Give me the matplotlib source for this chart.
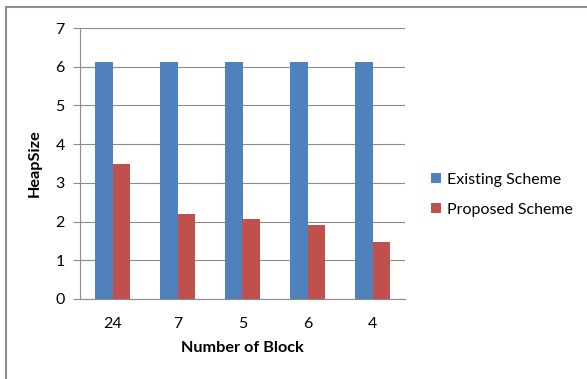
import matplotlib
matplotlib.use("Agg")
import matplotlib.pyplot as plt
import numpy as np
from matplotlib.patches import Rectangle

plt.rcParams['font.family'] = ['Lato', 'DejaVu Sans']

categories = ["24", "7", "5", "6", "4"]
existing = [6.13, 6.13, 6.13, 6.13, 6.13]
proposed = [3.5, 2.19, 2.06, 1.90, 1.47]
series_names = ["Existing Scheme", "Proposed Scheme"]
yticks = [0, 1, 2, 3, 4, 5, 6, 7]

blue = "#4F81BD"
red = "#C0504D"
grid_col = "#8C8C8C"

fig = plt.figure(figsize=(5.87, 3.79), dpi=100)
ax = fig.add_axes([80/587, 1-299/379, 325/587, 271/379])

x = np.arange(len(categories))
w = 0.27
ax.bar(x - w/2, existing, width=w, color=blue, label=series_names[0], zorder=3)
ax.bar(x + w/2, proposed, width=w, color=red, label=series_names[1], zorder=3)

ax.set_xlim(-0.5, len(categories) - 0.5)
ax.set_ylim(0, 7)
ax.set_yticks(yticks)
ax.set_xticks(x)
ax.set_xticklabels(categories)
ax.yaxis.grid(True, color=grid_col, linewidth=0.8, zorder=0)
ax.set_axisbelow(True)

for s in ["top", "right"]:
    ax.spines[s].set_visible(False)
ax.spines["left"].set_color(grid_col)
ax.spines["bottom"].set_color(grid_col)
ax.spines["left"].set_linewidth(0.8)
ax.spines["bottom"].set_linewidth(0.8)

ax.tick_params(axis="y", direction="out", length=5, color=grid_col, width=0.8,
               labelsize=11.5, pad=6)
ax.tick_params(axis="x", length=0, labelsize=11.5, pad=13)

ax.set_xlabel("Number of Block", fontsize=11.7, fontweight="bold", labelpad=7)
ax.set_ylabel("HeapSize", fontsize=11.7, fontweight="bold", labelpad=10)

ax.legend(loc="center left", bbox_to_anchor=(1.08, 0.385), frameon=False,
          fontsize=11.5, handlelength=0.6, handleheight=0.6, handletextpad=0.4,
          labelspacing=1.0, borderpad=0, borderaxespad=0)

fig.patches.append(Rectangle((6/587, -0.1), 1.2, 1.1 - 7/379, transform=fig.transFigure,
                             fill=False, edgecolor="#8F8F8F", linewidth=1.5))

fig.savefig("out.png", dpi=100)
